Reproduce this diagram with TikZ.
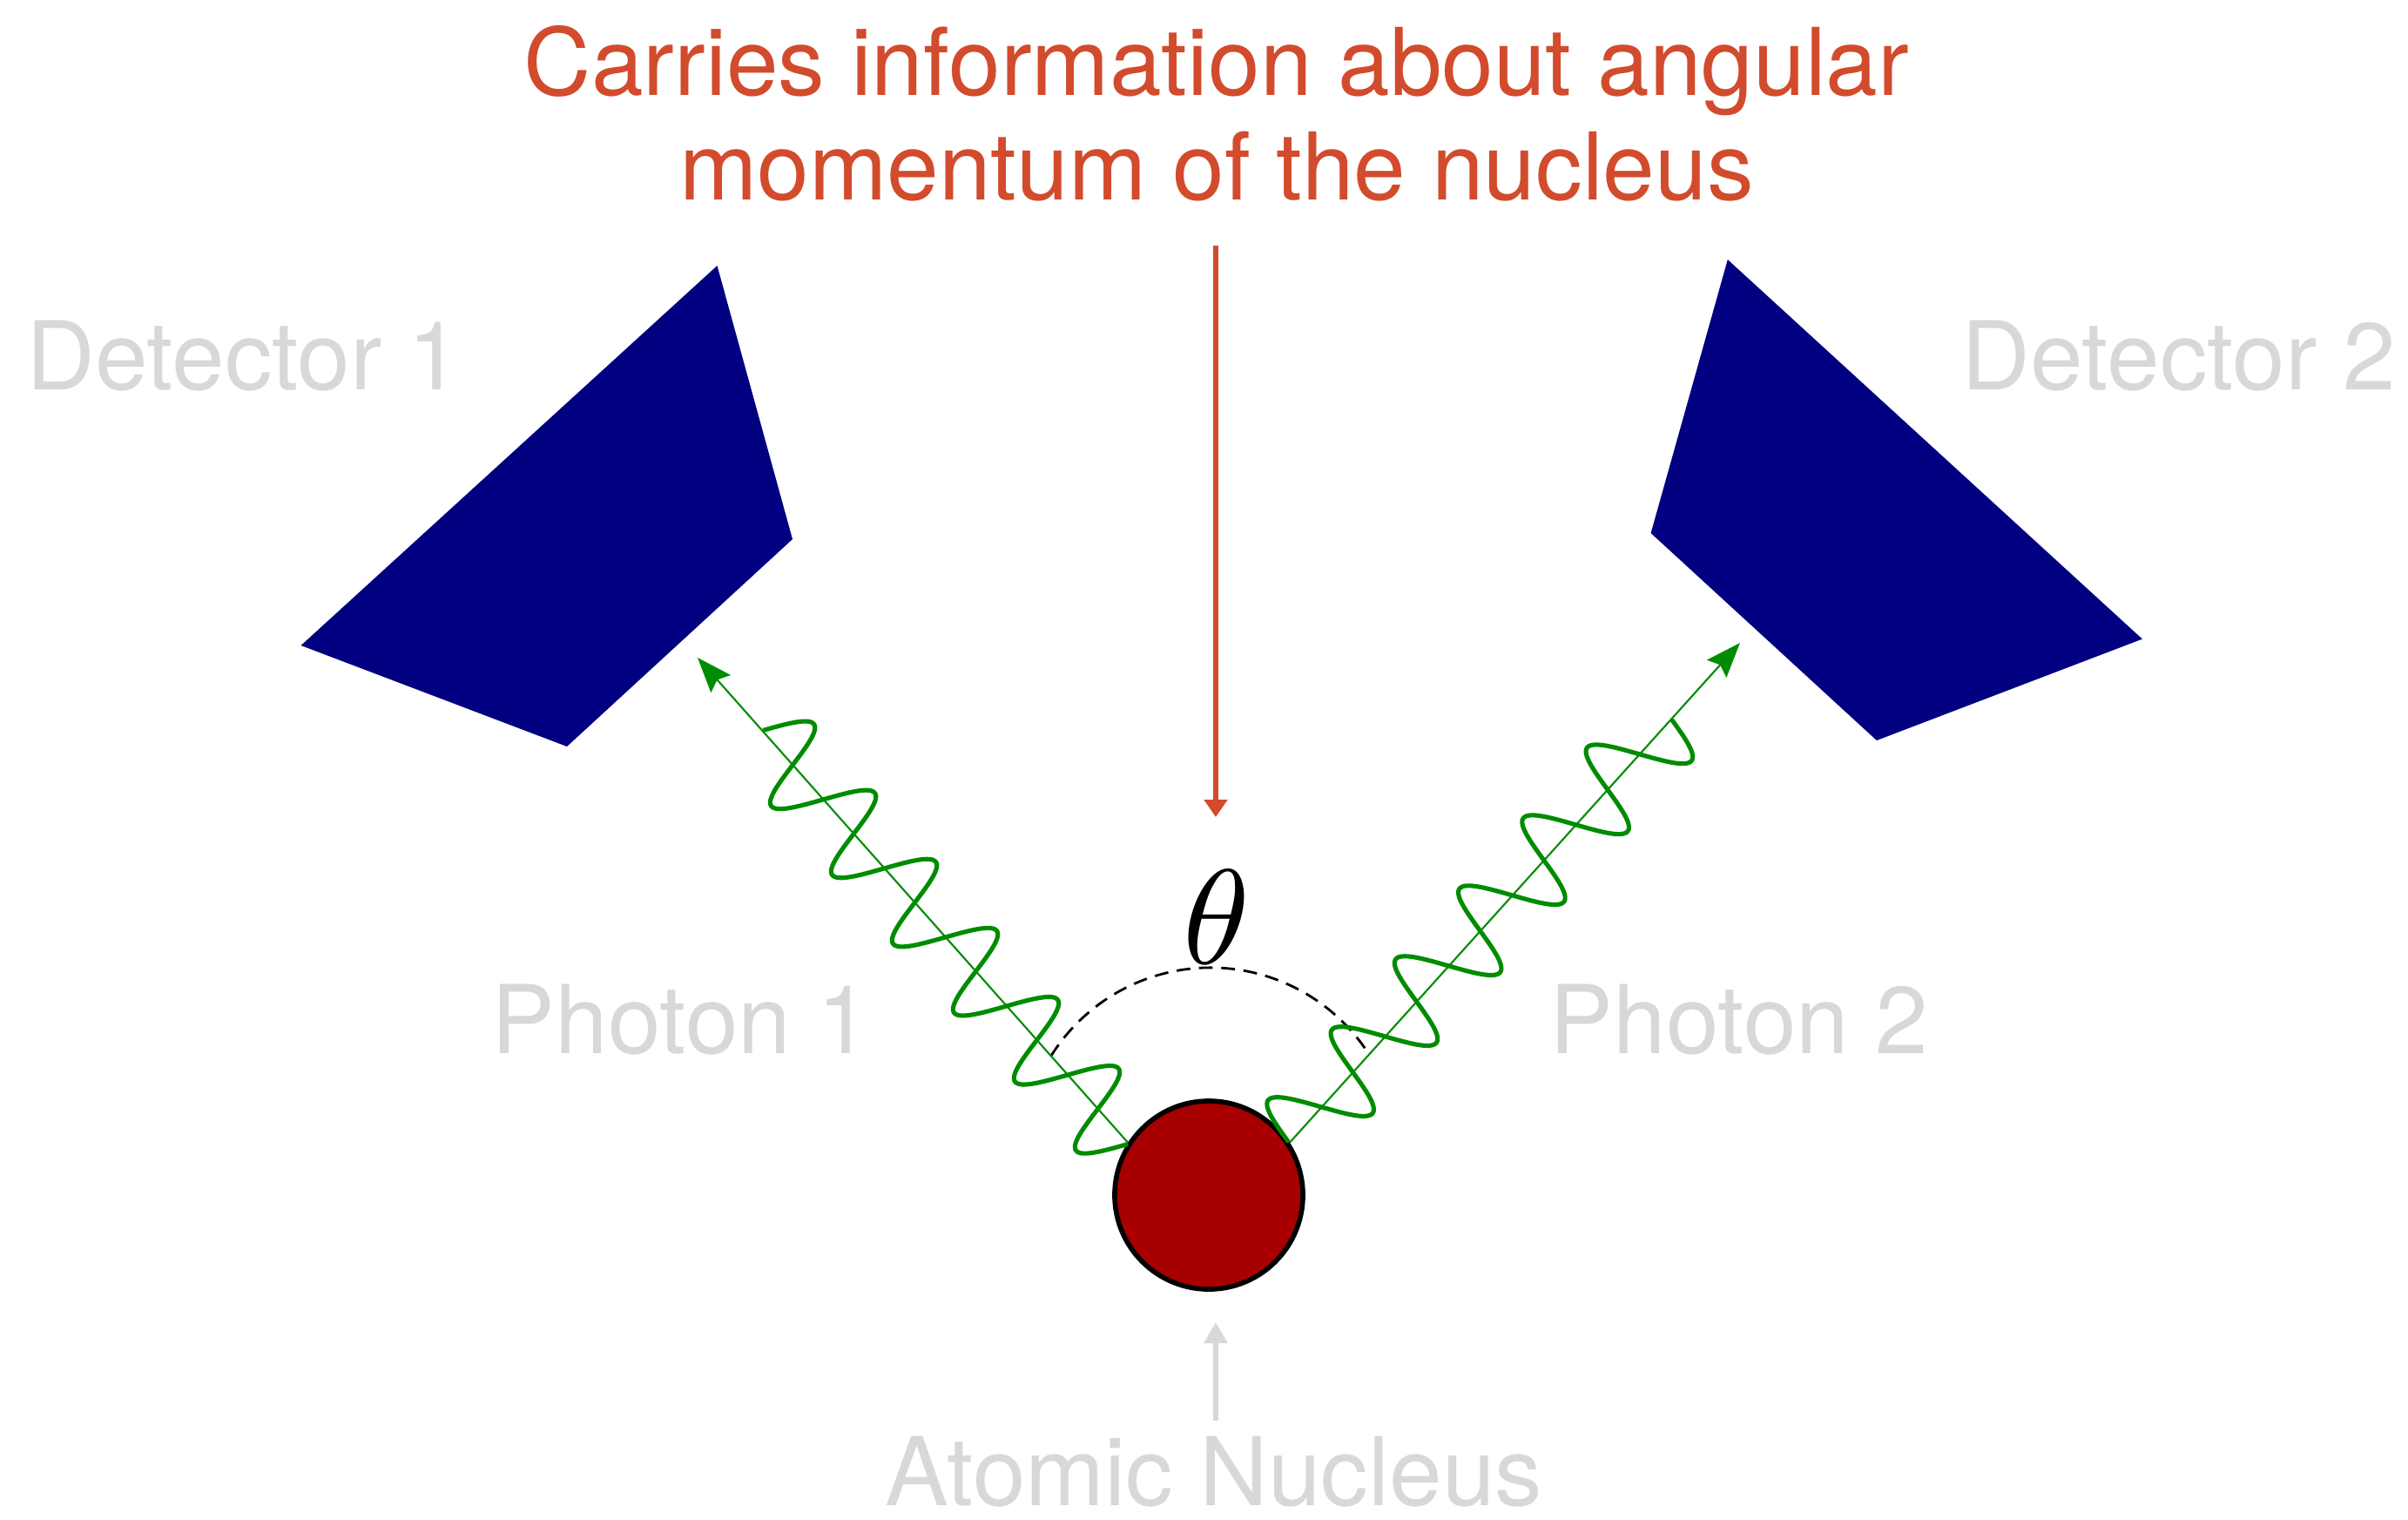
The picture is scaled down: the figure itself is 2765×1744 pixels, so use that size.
\documentclass[tikz,border=0pt]{standalone}
\usepackage{fontspec}
\setmainfont{TeX Gyre Heros}
\usetikzlibrary{arrows.meta}
\definecolor{titlered}{RGB}{210,75,45}
\definecolor{labelgray}{RGB}{216,216,216}
\definecolor{detnavy}{RGB}{0,0,128}
\definecolor{photongreen}{RGB}{0,140,0}
\definecolor{nucred}{RGB}{168,0,0}
\tikzset{
  bigtext/.style={font=\fontsize{30.5}{34}\selectfont, inner sep=0, anchor=base},
  graylabel/.style={bigtext, font=\fontsize{31}{34}\selectfont, text=labelgray},
  titletext/.style={bigtext, text=titlered},
  detector/.style={fill=detnavy},
  photonline/.style={draw=photongreen, line width=0.6pt, -{Stealth[length=0.4cm, width=0.3cm, inset=0.06cm]}},
  wave/.style={draw=photongreen, line width=1.45pt, line join=round},
  redarrow/.style={draw=titlered, line width=1.6pt, -{Triangle[length=0.2cm, width=0.26cm]}},
  grayarrow/.style={draw=labelgray, line width=1.6pt, -{Triangle[length=0.24cm, width=0.26cm]}},
  anglearc/.style={draw=black, line width=0.8pt, dash pattern=on 4.5pt off 2.8pt}
}
\begin{document}
\begin{tikzpicture}[x=0.01cm, y=-0.01cm]
\useasboundingbox (0,0) rectangle (2765,1744);
\fill[white] (0,0) rectangle (2765,1744);

% title
\node[titletext] (title1) at (1397,109) {Carries information about angular};
\node[titletext] (title2) at (1397,229) {momentum of the nucleus};

% detectors
\fill[detector] (823.5,305) -- (910,619) -- (651,857) -- (345.6,741) -- cycle;
\fill[detector] (1983.8,298) -- (2459.9,733.6) -- (2154.9,850) -- (1895.6,612) -- cycle;

% labels
\node[graylabel] (det1) at (280,447) {Detector 1};
\node[graylabel] (det2) at (2502,447) {Detector 2};
\node[graylabel] (ph1) at (782,1209) {Photon 1};
\node[graylabel] (ph2) at (1997,1209) {Photon 2};
\node[graylabel] (nuclab) at (1394,1728) {Atomic Nucleus};

% angle
\draw[anglearc] (1390,1327) ++(148:2.16cm) arc[start angle=148, end angle=33, radius=2.16cm];
\node[scale=4.4, inner sep=0] (th) at (1397,1053) {$\theta$};

% nucleus
\node[circle, fill=nucred, draw=black, line width=1.6pt, minimum size=2.16cm, inner sep=0] (nuc) at (1388,1372) {};

% photon waves
\draw[wave] plot[domain=0:1, samples=500, variable=\t]
  ({1295 - 419.9*\t - 41.7*sin(2160*\t)}, {1313.4 - 474.6*\t + 27.6*sin(2160*\t)});
\draw[wave] plot[domain=0:1, samples=500, variable=\t]
  ({1479.5 + 439.5*\t - 41.35*sin(2160*\t)}, {1311 - 485.7*\t - 28.1*sin(2160*\t)});

% photon directions
\coordinate (t1) at (801,755);
\coordinate (t2) at (1998,738);
\draw[photonline] (nuc.147.8) -- (t1);
\draw[photonline] (nuc.33.7) -- (t2);

% arrows
\coordinate (rtop) at (1396,282);
\coordinate (rtip) at (1396,938);
\draw[redarrow] (rtop) -- (rtip);
\coordinate (gbot) at (1396,1631);
\coordinate (gtip) at (1396,1518);
\draw[grayarrow] (gbot) -- (gtip);
\end{tikzpicture}
\end{document}
